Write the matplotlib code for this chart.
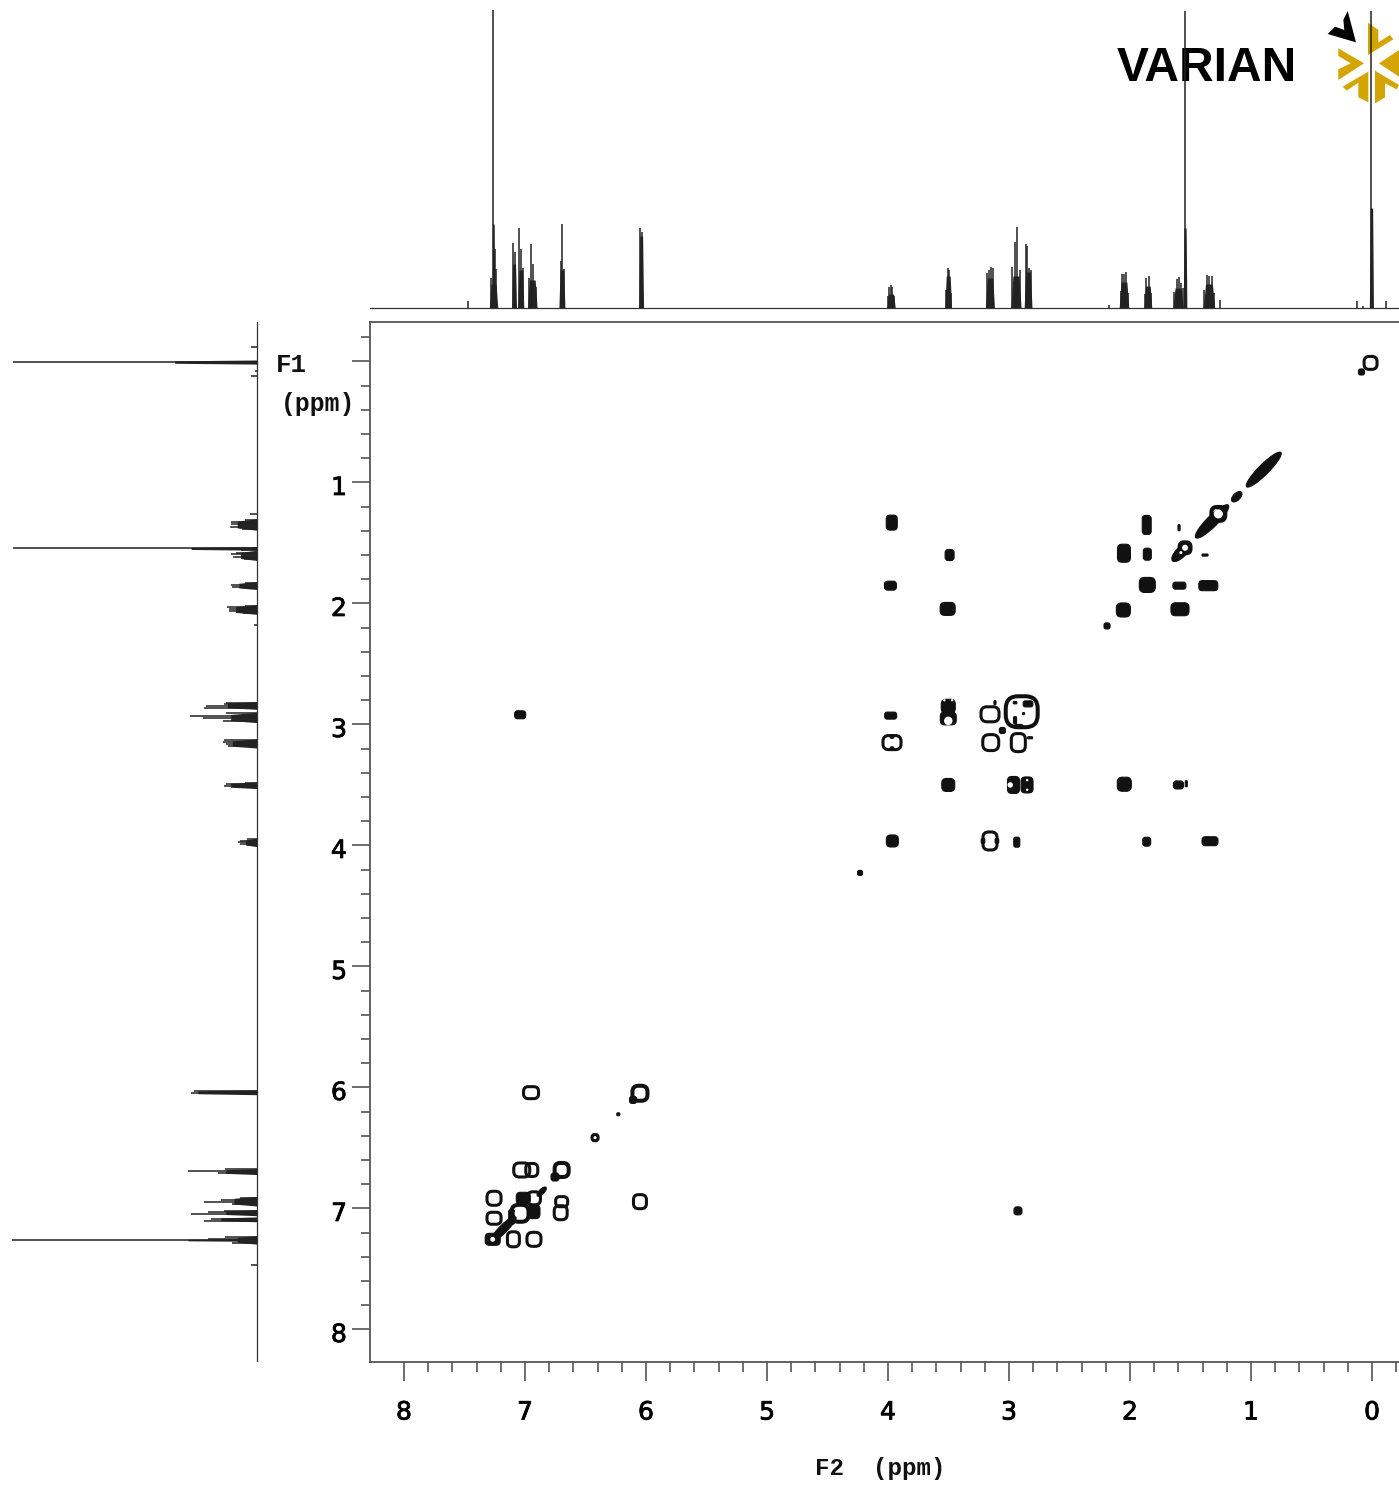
"""
2D COSY plot with the 1D proton trace along both axes and the vendor logo.
"""

import matplotlib
matplotlib.use('Agg')
import matplotlib.pyplot as plt
import matplotlib.patheffects as pe
from matplotlib.patches import Ellipse, FancyBboxPatch, Polygon
from matplotlib.transforms import ScaledTranslation

W, H = 1399, 1485
INK = '#111111'
AXIS = '#555555'
GOLD = '#D4A500'

# 1D trace: peak position (ppm) and intensity
peak_ppm = [7.469, 7.283, 7.262, 7.25, 7.24, 7.102, 7.085, 7.047, 7.033, 7.019,
            6.967, 6.95, 6.931, 6.911, 6.705, 6.692, 6.678, 6.047, 6.031,
            4.0, 3.988, 3.975, 3.963, 3.95, 3.521, 3.508, 3.496, 3.483,
            3.182, 3.165, 3.149, 3.132, 2.975, 2.948, 2.934, 2.909, 2.862,
            2.851, 2.832, 2.821, 2.176, 2.077, 2.066, 2.05, 2.033, 2.019,
            1.876, 1.865, 1.845, 1.829, 1.636, 1.614, 1.595, 1.579, 1.562,
            1.545, 1.386, 1.366, 1.345, 1.325, 1.308, 1.259,
            0.121, 0.077, 0.006, -0.116]
peak_int = [7, 30, 298, 59, 39, 65, 56, 80, 59, 40,
            30, 64, 44, 21, 47, 84, 39, 80, 76,
            12, 21, 23, 21, 12, 18, 40, 38, 15,
            35, 38, 41, 40, 41, 66, 81, 38, 64,
            62, 40, 38, 3, 17, 34, 34, 36, 15,
            14, 30, 32, 15, 16, 29, 31, 25, 20,
            297, 18, 33, 32, 32, 15, 8,
            7, 2, 297, 7]

# dark body of each multiplet (ppm range and height)
foot_hi = [7.295, 7.272, 7.11, 7.06, 6.98, 6.72, 6.06, 4.01, 3.53, 3.195, 2.985, 2.875, 2.09, 1.885, 1.645, 1.56, 1.395, 0.022]
foot_lo = [7.225, 7.25, 7.07, 7.01, 6.90, 6.67, 6.02, 3.94, 3.475, 3.12, 2.90, 2.81, 2.01, 1.82, 1.56, 1.53, 1.30, -0.012]
foot_int = [24, 84, 44, 38, 28, 38, 72, 14, 32, 30, 32, 36, 26, 22, 20, 80, 24, 100]

# open contour rings: F2, F1, width, height (ppm)
ring_f2 = [3.157, 3.967, 3.151, 2.923, 3.157, 6.95, 7.027, 6.944, 7.256, 7.256,
           7.096, 6.926, 6.926, 6.697, 6.705, 6.05, 6.421, 0.012]
ring_f1 = [2.916, 3.15, 3.15, 3.15, 3.963, 6.043, 6.682, 6.682, 6.916, 7.081,
           7.255, 7.255, 6.916, 6.944, 7.035, 6.944, 6.415, 0.012]
ring_w = [.149, .149, .132, .116, .116, .124, .132, .099, .116, .116,
          .099, .116, .107, .099, .107, .107, .05, .107]
ring_h = [.124, .116, .132, .149, .149, .099, .116, .107, .116, .099,
          .124, .116, .107, .083, .116, .116, .05, .107]

# heavier rings
thick_f2 = [2.895, 6.05, 6.697, 7.041, 1.27, 1.545]
thick_f1 = [2.895, 6.048, 6.682, 7.04, 1.26, 1.54]
thick_w = [.264, .124, .116, .14, .115, .09]
thick_h = [.256, .124, .116, .14, .115, .09]

# filled cross peaks: F2, F1, width, height (ppm)
blob_f2 = [3.978, 3.502, 3.502, 2.963, 2.851, 3.502, 2.047, 1.6, 3.964, 2.936,
           1.862, 1.339, 4.231, 3.969, 3.491, 3.98, 3.507, 2.05, 1.857, 1.857,
           1.592, 1.353, 2.055, 1.587, 2.19, 1.38, 1.595, 1.862, 0.087, 7.04,
           2.926, 6.107, 6.229, 6.752, 7.014, 6.926, 3.055, 2.826, 3.116, 1.535,
           7.267, 7.11, 2.843, 2.95, 2.92, 2.88, 2.95, 3.967, 3.967, 3.215, 3.10]
blob_f1 = [2.927, 2.85, 2.95, 3.5, 3.5, 3.5, 3.494, 3.5, 3.963, 3.973,
           3.969, 3.965, 4.227, 1.332, 1.6, 1.853, 2.045, 1.585, 1.593, 1.847,
           1.853, 1.853, 2.054, 2.048, 2.186, 1.6, 1.374, 1.351, 0.087, 2.92,
           7.02, 6.103, 6.222, 6.74, 6.916, 7.026, 3.05, 3.11, 2.82, 3.49,
           7.255, 7.07, 2.83, 2.965, 3.01, 2.91, 2.82, 3.10, 3.20, 3.963, 3.963]
blob_w = [.099, .116, .132, .099, .099, .107, .116, .083, .099, .05,
          .066, .132, .041, .091, .074, .099, .124, .107, .066, .132,
          .107, .157, .116, .149, .05, .05, .017, .074, .05, .091,
          .066, .058, .025, .066, .116, .099, .05, .041, .017, .017,
          .124, .05, .08, .025, .06, .017, .03, .03, .03, .03, .03]
blob_h = [.058, .116, .107, .14, .132, .107, .116, .066, .099, .083,
          .074, .074, .041, .124, .091, .074, .107, .149, .099, .124,
          .058, .083, .116, .107, .05, .017, .05, .157, .05, .066,
          .066, .058, .025, .066, .099, .116, .05, .017, .033, .05,
          .099, .12, .05, .06, .02, .017, .02, .03, .03, .04, .04]

# diagonal ridges: F2, F1 centre, length, width (ppm)
ridge_f2 = [0.895, 1.118, 1.322, 1.578, 7.18, 6.862]
ridge_f1 = [0.894, 1.118, 1.322, 1.577, 7.17, 6.861]
ridge_len = [.40, .107, .38, .20, .30, .10]
ridge_wid = [.085, .058, .09, .083, .066, .041]

# white centres left inside filled contours
hole_f2 = [1.27, 1.545, 3.502, 2.99, 7.267, 7.041, 2.85, 2.85, 3.535, 3.47, 1.58]
hole_f1 = [1.26, 1.54, 2.97, 3.5, 7.255, 7.04, 3.46, 3.54, 2.80, 2.80, 1.58]
hole_d = [.075, .05, .07, .045, .04, .09, .02, .02, .02, .02, .025]

f2_labels = ['8', '7', '6', '5', '4', '3', '2', '1', '0']
f1_labels = ['', '1', '2', '3', '4', '5', '6', '7', '8']

# logo outlines, in pixels of a 3x crop starting at x=1000
star_arms = [
    [(1104, 68), (1135, 90), (1135, 127), (1170, 105), (1180, 118), (1104, 165)],
    [(1015, 145), (1092, 190), (1015, 240), (1015, 208), (1052, 190), (1015, 168)],
    [(1028, 260), (1105, 215), (1105, 307), (1075, 292), (1075, 248), (1040, 272)],
    [(1125, 212), (1197, 255), (1190, 268), (1155, 250), (1155, 292), (1125, 310)],
    [(1197, 150), (1137, 190), (1197, 230)],
]
arrow_head = [(1043, 33), (1068, 127), (983, 102), (1005, 80), (1033, 90), (1030, 60)]


def rect(left, top, right, bottom):
    return [left / W, 1 - bottom / H, (right - left) / W, (bottom - top) / H]


def box(ax, x, y, w, h, lw, fill='none', rnd=0.4):
    ax.add_patch(FancyBboxPatch((x - w / 2, y - h / 2), w, h,
                                boxstyle=f'round,pad=0,rounding_size={rnd * min(w, h)}',
                                fc=fill, ec=INK, lw=lw, zorder=3))


fig = plt.figure(figsize=(W / 100, H / 100), dpi=100, facecolor='white')

# main contour panel
ax = fig.add_axes(rect(370, 322, 1399, 1362))
ax.set_xlim(8.281, -0.223)
ax.set_ylim(8.269, -0.326)
for x, y, w, h in zip(ring_f2, ring_f1, ring_w, ring_h):
    box(ax, x, y, w, h, 2.2)
for x, y, w, h in zip(thick_f2, thick_f1, thick_w, thick_h):
    box(ax, x, y, w, h, 2.9)
for x, y, w, h in zip(blob_f2, blob_f1, blob_w, blob_h):
    box(ax, x, y, w, h, 0.8, fill=INK, rnd=0.35)
for x, y, l, w in zip(ridge_f2, ridge_f1, ridge_len, ridge_wid):
    ax.add_patch(Ellipse((x, y), l, w, angle=45, fc=INK, ec=INK, lw=0.8, zorder=2))
for x, y, d in zip(hole_f2, hole_f1, hole_d):
    ax.add_patch(Ellipse((x, y), d, d, fc='white', ec='none', zorder=4))

ax.spines['right'].set_visible(False)
for name in ['left', 'top', 'bottom']:
    ax.spines[name].set_color(AXIS)
    ax.spines[name].set_linewidth(1.3)
ax.set_xticks(range(8, -1, -1))
ax.set_xticks([v / 5 for v in range(41) if v % 5 != 0] + [-0.2], minor=True)
ax.set_yticks(range(0, 9))
ax.set_yticks([v / 5 for v in range(-1, 41) if v % 5 != 0], minor=True)
ax.set_xticklabels(f2_labels, fontsize=18, color='black')
ax.set_yticklabels(f1_labels, fontsize=18, color='black')
ax.tick_params(axis='x', which='major', length=13.7, width=1.2, color=AXIS, pad=14)
ax.tick_params(axis='x', which='minor', length=7.2, width=1.2, color=AXIS)
ax.tick_params(axis='y', which='major', length=13, width=1.2, color=AXIS, pad=3.6)
ax.tick_params(axis='y', which='minor', length=6.5, width=1.2, color=AXIS)
nudge = ScaledTranslation(0, -3 / 100, fig.dpi_scale_trans)
heavy = [pe.withStroke(linewidth=0.6, foreground='black')]
for lab in ax.get_yticklabels():
    lab.set_transform(lab.get_transform() + nudge)
    lab.set_path_effects(heavy)
for lab in ax.get_xticklabels():
    lab.set_path_effects(heavy)

# F2 trace on top
top = fig.add_axes(rect(370, 10, 1399, 310))
top.set_xlim(8.281, -0.223)
top.set_ylim(-2, 298)
top.axis('off')
top.axhline(0, color='#333333', lw=0.9)
top.vlines(peak_ppm, 0, peak_int, color='#222222', lw=1.1)
for hi, lo, v in zip(foot_hi, foot_lo, foot_int):
    inset = (hi - lo) * 0.2
    top.fill_between([lo, lo + inset, hi - inset, hi], [0, v, v, 0], color='#262626', lw=0)

# F1 trace on the left, same data turned on its side
side = fig.add_axes(rect(12, 322, 258.6, 1362))
side.set_ylim(8.269, -0.326)
side.set_xlim(298, -2)
side.axis('off')
side.axvline(0, color='#333333', lw=0.9)
side.hlines(peak_ppm, 0, peak_int, color='#222222', lw=1.1)
for hi, lo, v in zip(foot_hi, foot_lo, foot_int):
    inset = (hi - lo) * 0.2
    side.fill_betweenx([lo, lo + inset, hi - inset, hi], 0, [0, v, v, 0], color='#262626', lw=0)

# overlay in pixel coordinates for logo and axis titles
over = fig.add_axes([0, 0, 1, 1], zorder=-1)
over.set_xlim(0, W)
over.set_ylim(H, 0)
over.axis('off')
for arm in star_arms:
    over.add_patch(Polygon([(1000 + x / 3, y / 3) for x, y in arm], fc=GOLD, ec='none'))
over.add_patch(Polygon([(1000 + x / 3, y / 3) for x, y in arrow_head], fc='black', ec='none'))
over.text(1207, 81, 'VARIAN', fontsize=34.5, fontweight='bold', family='Liberation Sans',
          ha='center', va='baseline', color='black')

mono = dict(family='Liberation Mono', fontweight='bold', color='#111111', ha='left', va='center')
over.text(276, 365, 'F1', fontsize=18.5, **mono)
over.text(281, 404, '(ppm)', fontsize=17.8, **mono)
over.text(815, 1468, 'F2  (ppm)', fontsize=17.4, **mono)

fig.savefig('out.png', dpi=100, facecolor='white')
